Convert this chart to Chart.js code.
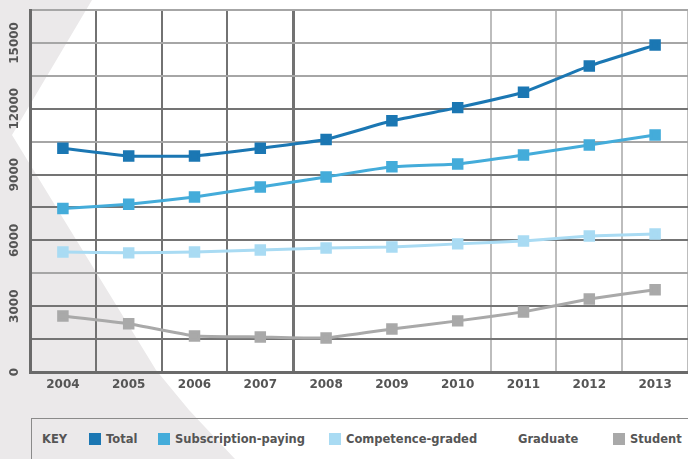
<!DOCTYPE html>
<html>
<head>
<meta charset="utf-8">
<script src="https://cdn.jsdelivr.net/npm/chart.js@4"></script>
<style>
  html, body { margin: 0; padding: 0; width: 688px; height: 459px; overflow: hidden; background: #fff; }
  #bg { position: absolute; left: 0; top: 0; width: 688px; height: 459px; background: #ebe9ea;
        clip-path: polygon(0 0, 92px 0, 12px 135px, 61px 215px, 156px 370px, 189px 410px, 235px 459px, 0 459px); }
  #wrap { position: absolute; left: 0; top: 0; width: 697px; height: 400px; }
  #key { position: absolute; left: 31px; top: 418px; width: 700px; height: 60px;
         border-top: 1px solid #8a8a8a; border-left: 1px solid #8a8a8a;
         font: bold 11.5px 'DejaVu Sans', sans-serif; color: #555; }
  .item { position: absolute; top: 13px; display: flex; align-items: center; white-space: nowrap; }
  .sw { width: 12px; height: 12px; margin-right: 5px; }
</style>
</head>
<body>
<div id="bg"></div>
<div id="wrap"><canvas id="chart" width="697" height="400"></canvas></div>
<div id="key"></div>
<script>
const years = ['2004', '2005', '2006', '2007', '2008', '2009', '2010', '2011', '2012', '2013']
const total = [10200, 9850, 9850, 10200, 10600, 11450, 12050, 12750, 13950, 14900]
const subscriptionPaying = [7450, 7650, 7980, 8430, 8890, 9350, 9480, 9890, 10350, 10800]
const competenceGraded = [5470, 5430, 5470, 5560, 5650, 5700, 5840, 5970, 6200, 6290]
const student = [2550, 2200, 1640, 1600, 1550, 1960, 2330, 2740, 3330, 3750]
const yLabels = [0, 3000, 6000, 9000, 12000, 15000]
const keyLabels = ['Total', 'Subscription-paying', 'Competence-graded', 'Graduate', 'Student']

const colors = ['#1b77b3', '#44acda', '#a9dbf3', null, '#a9a9a9']
const keyX = [57, 126, 297, 486, 581]

const series = [
  { label: keyLabels[0], data: total, color: colors[0] },
  { label: keyLabels[1], data: subscriptionPaying, color: colors[1] },
  { label: keyLabels[2], data: competenceGraded, color: colors[2] },
  { label: keyLabels[4], data: student, color: colors[4] },
]

// key box below the chart
const key = document.getElementById('key')
const head = document.createElement('div')
head.className = 'item'
head.style.left = '10px'
head.textContent = 'KEY'
key.appendChild(head)
keyLabels.forEach((lab, i) => {
  const el = document.createElement('div')
  el.className = 'item'
  el.style.left = keyX[i] + 'px'
  if (colors[i]) {
    const sw = document.createElement('span')
    sw.className = 'sw'
    sw.style.background = colors[i]
    el.appendChild(sw)
  }
  el.appendChild(document.createTextNode(lab))
  key.appendChild(el)
})

const darkH = [0, 1, 2, 4, 5, 6, 8]
const yLabelPlugin = {
  id: 'yLabels',
  afterDraw(chart) {
    const ctx = chart.ctx
    const y = chart.scales.y
    ctx.save()
    ctx.fillStyle = '#555'
    ctx.font = "bold 12px 'DejaVu Sans', sans-serif"
    ctx.textAlign = 'center'
    ctx.textBaseline = 'middle'
    for (const v of yLabels) {
      ctx.save()
      ctx.translate(15, y.getPixelForValue(v))
      ctx.rotate(-Math.PI / 2)
      ctx.fillText(String(v), 0, 0)
      ctx.restore()
    }
    ctx.restore()
  }
}

new Chart(document.getElementById('chart'), {
  type: 'line',
  data: {
    labels: years,
    datasets: series.map(s => ({
      label: s.label,
      data: s.data,
      borderColor: s.color,
      backgroundColor: s.color,
      borderWidth: 3,
      pointStyle: 'rect',
      pointRadius: 6,
      pointHoverRadius: 6,
      tension: 0.1,
      fill: false,
    })),
  },
  options: {
    responsive: false,
    animation: false,
    layout: { padding: { top: 10, left: 0, right: 0, bottom: 0 } },
    plugins: { legend: { display: false }, tooltip: { enabled: false } },
    scales: {
      x: {
        offset: true,
        grid: {
          offset: true,
          drawTicks: false,
          lineWidth: c => c.index === 4 ? 3 : 2,
          color: c => c.index <= 4 ? '#727272' : (c.index <= 6 ? 'rgba(0,0,0,0)' : '#bdbdbd'),
        },
        border: { color: '#6a6a6a', width: 3 },
        ticks: {
          color: '#555',
          padding: 6,
          font: { family: "'DejaVu Sans', sans-serif", size: 12, weight: 'bold' },
        },
        afterFit: s => { s.height = 28 },
      },
      y: {
        min: 0,
        max: 16500,
        ticks: { stepSize: 1500, display: false },
        grid: {
          drawTicks: false,
          lineWidth: 2,
          color: c => darkH.includes(c.index) ? '#747474' : '#a6a6a6',
        },
        border: { color: '#6a6a6a', width: 3 },
        afterFit: s => { s.width = 30 },
      },
    },
  },
  plugins: [yLabelPlugin],
})
</script>
</body>
</html>
